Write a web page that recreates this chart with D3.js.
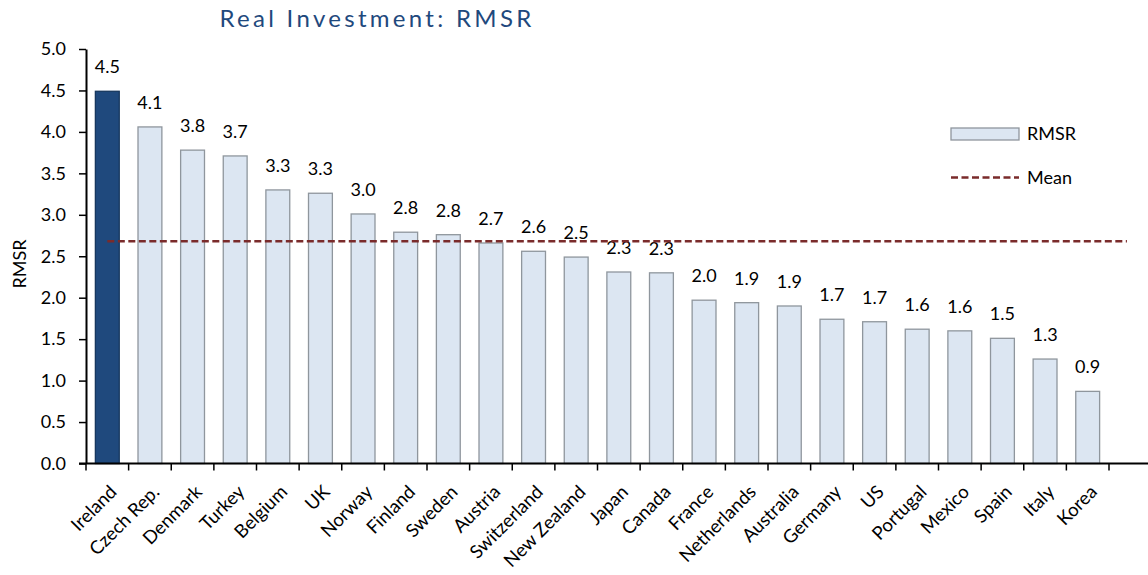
<!DOCTYPE html>
<html><head><meta charset="utf-8">
<script src="https://cdn.jsdelivr.net/npm/d3@7/dist/d3.min.js"></script>
<style>
body{margin:0;background:#fff}
svg{display:block;font-family:Lato,"Open Sans",sans-serif}
</style>
</head><body>
<svg id="chart" width="1148" height="575"></svg>
<script>
const countries = ["Ireland","Czech Rep.","Denmark","Turkey","Belgium","UK","Norway","Finland","Sweden","Austria","Switzerland","New Zealand","Japan","Canada","France","Netherlands","Australia","Germany","US","Portugal","Mexico","Spain","Italy","Korea"];
const rmsr = [4.49,4.06,3.78,3.71,3.30,3.26,3.01,2.79,2.76,2.66,2.56,2.49,2.31,2.30,1.97,1.94,1.90,1.74,1.71,1.62,1.60,1.51,1.26,0.87];
const meanValue = 2.68;
const yTicks = [0,0.5,1.0,1.5,2.0,2.5,3.0,3.5,4.0,4.5,5.0];
const highlight = "Ireland";

const svg = d3.select("#chart");
const W = 1148;
const x0 = 86, x1 = 1109, yBase = 463.5, yTop = 49;

const x = d3.scaleBand().domain(countries).range([x0, x1]).paddingInner(0.44).paddingOuter(0.22);
const y = d3.scaleLinear().domain([0, 5]).range([yBase, yTop]);

// title
svg.append("text").attr("x", 377).attr("y", 27).attr("text-anchor", "middle")
  .attr("font-size", 24).attr("letter-spacing", "3.3px").attr("fill", "#1f497d")
  .text("Real Investment: RMSR");

// y axis title
svg.append("text").attr("transform", "translate(26,264) rotate(-90)")
  .attr("text-anchor", "middle").attr("font-size", 18).attr("fill", "#000").text("RMSR");

// bars
svg.append("g").selectAll("rect").data(countries).join("rect")
  .attr("x", d => x(d)).attr("width", x.bandwidth())
  .attr("y", (d, i) => y(rmsr[i])).attr("height", (d, i) => yBase - y(rmsr[i]))
  .attr("fill", d => d === highlight ? "#1f497d" : "#dce6f2")
  .attr("stroke", d => d === highlight ? "#17375e" : "#8f969d")
  .attr("stroke-width", 1.3);

// value labels
svg.append("g").selectAll("text").data(countries).join("text")
  .attr("x", d => x(d) + x.bandwidth() / 2)
  .attr("y", (d, i) => y(rmsr[i]) - 18)
  .attr("text-anchor", "middle").attr("font-size", 18).attr("fill", "#000")
  .text((d, i) => rmsr[i].toFixed(1));

// mean line
const firstC = x(countries[0]) + x.bandwidth() / 2;
const lastC = x(countries[countries.length - 1]) + x.bandwidth() / 2 + x.step() * 0.92;
svg.append("line").attr("x1", firstC).attr("x2", lastC)
  .attr("y1", y(meanValue)).attr("y2", y(meanValue))
  .attr("stroke", "#7a2b2b").attr("stroke-width", 2.5).attr("stroke-dasharray", "7,3.5");

// y axis
const yAxis = svg.append("g").attr("transform", `translate(${x0},0)`)
  .call(d3.axisLeft(y).tickValues(yTicks).tickFormat(d3.format(".1f")).tickSize(7).tickSizeOuter(0).tickPadding(13));
yAxis.select(".domain").attr("stroke", "#000").attr("stroke-width", 2);
yAxis.selectAll(".tick line").attr("stroke", "#000").attr("stroke-width", 1.5);
yAxis.selectAll(".tick text").attr("font-size", 18).attr("font-family", "Lato,'Open Sans',sans-serif").attr("fill", "#000");

// x axis line
svg.append("line").attr("x1", x0 - 7).attr("x2", W).attr("y1", yBase).attr("y2", yBase)
  .attr("stroke", "#000").attr("stroke-width", 2);
// x ticks at band boundaries
const bounds = d3.range(countries.length + 1).map(i => x0 + i * x.step());
svg.append("g").selectAll("line").data(bounds).join("line")
  .attr("x1", d => d).attr("x2", d => d).attr("y1", yBase).attr("y2", yBase + 7)
  .attr("stroke", "#000").attr("stroke-width", 1.5);

// x labels
svg.append("g").selectAll("text").data(countries).join("text")
  .attr("transform", d => `translate(${x(d) + x.bandwidth() / 2 + 6},${yBase + 25}) rotate(-45)`)
  .attr("text-anchor", "end").attr("dy", "0.35em").attr("font-size", 18.5).attr("fill", "#000")
  .text(d => d);

// legend
const lg = svg.append("g");
lg.append("rect").attr("x", 951).attr("y", 128).attr("width", 68).attr("height", 12)
  .attr("fill", "#dce6f2").attr("stroke", "#8f969d").attr("stroke-width", 1.3);
lg.append("text").attr("x", 1027).attr("y", 134).attr("dy", "0.35em").attr("font-size", 18).text("RMSR");
lg.append("line").attr("x1", 951).attr("x2", 1019).attr("y1", 177.5).attr("y2", 177.5)
  .attr("stroke", "#7a2b2b").attr("stroke-width", 2.5).attr("stroke-dasharray", "7,3.5");
lg.append("text").attr("x", 1027).attr("y", 177.5).attr("dy", "0.35em").attr("font-size", 18).text("Mean");
</script>
</body></html>
